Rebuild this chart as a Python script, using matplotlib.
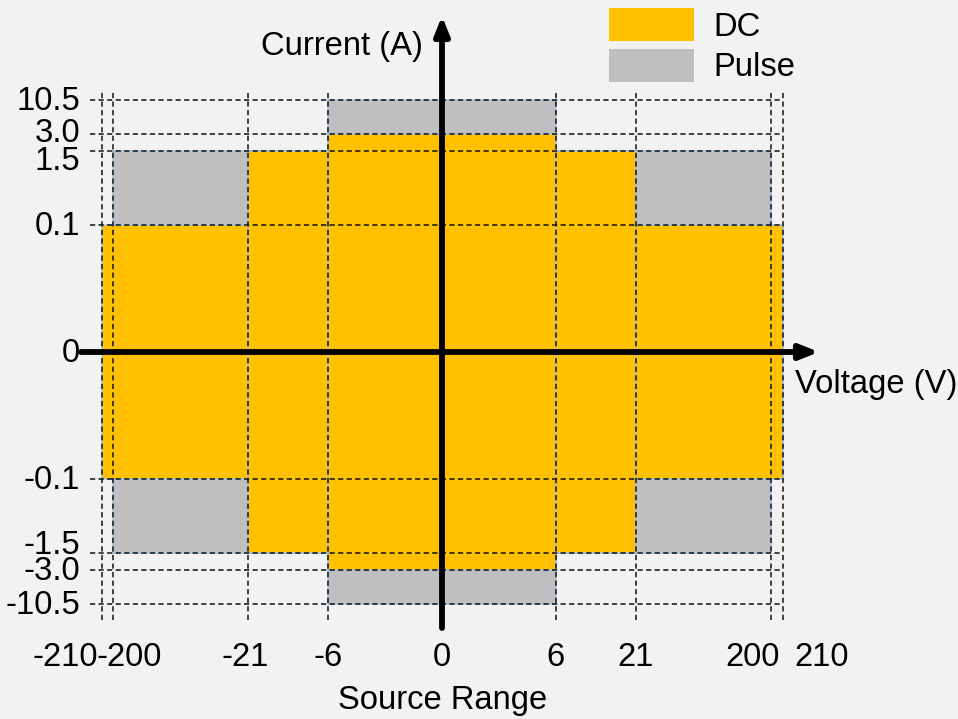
import numpy as np
import matplotlib
matplotlib.use("Agg")
import matplotlib.pyplot as plt
from matplotlib.transforms import offset_copy
from matplotlib.patches import Patch

plt.rcParams['font.family'] = ['Liberation Sans', 'DejaVu Sans']

# ---- data ----
x_ticks = [-210, -200, -21, -6, 0, 6, 21, 200, 210]
x_tick_labels = ['-210', '-200', '-21', '-6', '0', '6', '21', '200', '210']
y_ticks = [-10.5, -3.0, -1.5, -0.1, 0, 0.1, 1.5, 3.0, 10.5]
y_tick_labels = ['-10.5', '-3.0', '-1.5', '-0.1', '0', '0.1', '1.5', '3.0', '10.5']

# rectangles given as symmetric half-extents (voltage, current)
dc_v = [210, 21, 6]
dc_i = [0.1, 1.5, 3.0]
pulse_v = [200, 6]
pulse_i = [1.5, 10.5]

# ---- piecewise (non-linear) scales ----
xs_data = [-1000] + x_ticks + [1000]
xs_pos = [-1130.5, -340.5, -329, -194, -114, 0, 114, 194, 329, 340.5, 1130.5]
ys_data = [-1000] + y_ticks + [1000]
ys_pos = [-1241.5, -252, -218, -201, -127, 0, 127, 201, 218, 252, 1241.5]


def fx(v):
    return np.interp(v, xs_data, xs_pos)


def ifx(u):
    return np.interp(u, xs_pos, xs_data)


def fy(v):
    return np.interp(v, ys_data, ys_pos)


def ify(u):
    return np.interp(u, ys_pos, ys_data)


W, H = 958, 719
fig = plt.figure(figsize=(W / 100, H / 100), dpi=100, facecolor='#F2F2F2')
ax = fig.add_axes([0, 0, 1, 1])
ax.set_facecolor('none')
ax.set_xscale('function', functions=(fx, ifx))
ax.set_yscale('function', functions=(fy, ify))
ax.set_xlim(ifx(-442), ifx(W - 442))
ax.set_ylim(ify(-(H - 352)), ify(352))
for s in ax.spines.values():
    s.set_visible(False)
ax.set_xticks([])
ax.set_yticks([])

ORANGE = '#FFC000'
GRAY = '#BFBFBF'
EDGE = '#9DC3E6'

# pulse behind, DC on top
for hv, hi in zip(pulse_v, pulse_i):
    ax.bar(0, 2 * hi, width=2 * hv, bottom=-hi, color=GRAY, edgecolor=EDGE,
           linewidth=1.1, zorder=1)
for hv, hi in zip(dc_v, dc_i):
    ax.bar(0, 2 * hi, width=2 * hv, bottom=-hi, color=ORANGE, edgecolor=EDGE,
           linewidth=1.1, zorder=2)

# dashed guide lines
dash = (0, (3.4, 2.2))
ax.hlines(y_ticks, 90 / W, 783 / W, transform=ax.get_yaxis_transform(),
          colors='#111111', linewidth=1.1, linestyles=[dash], zorder=3)
ax.vlines(x_ticks, 1 - 620 / H, 1 - 92 / H, transform=ax.get_xaxis_transform(),
          colors='#111111', linewidth=1.1, linestyles=[dash], zorder=3)

# axes arrows
arrow = dict(arrowstyle='-|>,head_length=0.55,head_width=0.22', lw=4.2,
             color='black', shrinkA=0, shrinkB=0, mutation_scale=20)
ax.annotate('', xy=(819 / W, 0), xytext=(81 / W, 0),
            xycoords=('axes fraction', 'data'), textcoords=('axes fraction', 'data'),
            arrowprops=arrow, zorder=5)
ax.annotate('', xy=(0, 1 - 16 / H), xytext=(0, 1 - 628 / H),
            xycoords=('data', 'axes fraction'), textcoords=('data', 'axes fraction'),
            arrowprops=arrow, zorder=5)

FS = 23.6
# x tick labels
ha_list = ['right', 'left', 'center', 'center', 'center', 'center', 'center', 'right', 'left']
dx_list = [-4, -17, -3, 0, 0, 0, 0, 9, 12]
xt = ax.get_xaxis_transform()
for v, lab, ha, dx in zip(x_ticks, x_tick_labels, ha_list, dx_list):
    ax.text(v, 1 - 657 / H, lab, ha=ha, va='center', fontsize=FS,
            transform=offset_copy(xt, fig=fig, x=dx, y=0, units='dots'))
# y tick labels (1.5 / -1.5 nudged apart from 3.0 / -3.0)
dy_list = [-1, -1, 8, -1, -1, -1, -10, 0, -1]
yt = ax.get_yaxis_transform()
for v, lab, dy in zip(y_ticks, y_tick_labels, dy_list):
    ax.text(80 / W, v, lab, ha='right', va='center', fontsize=FS,
            transform=offset_copy(yt, fig=fig, x=0, y=dy, units='dots'))

fig.text(423 / W, 1 - 47 / H, 'Current (A)', ha='right', va='center', fontsize=FS)
fig.text(795 / W, 1 - 384 / H, 'Voltage (V)', ha='left', va='center', fontsize=FS)
fig.text(443 / W, 1 - 700 / H, 'Source Range', ha='center', va='center', fontsize=FS)

# legend
handles = [Patch(facecolor=ORANGE, edgecolor='none', label='DC'),
           Patch(facecolor=GRAY, edgecolor='none', label='Pulse')]
em = FS * 100 / 72
fig.legend(handles=handles, loc='upper left', bbox_to_anchor=(609 / W, 1 - 8 / H),
           frameon=False, fontsize=FS, borderpad=0, borderaxespad=0,
           handlelength=85 / em, handleheight=38.5 / em, handletextpad=19 / em,
           labelspacing=6 / em)

fig.savefig('out.png', dpi=100, facecolor=fig.get_facecolor())
